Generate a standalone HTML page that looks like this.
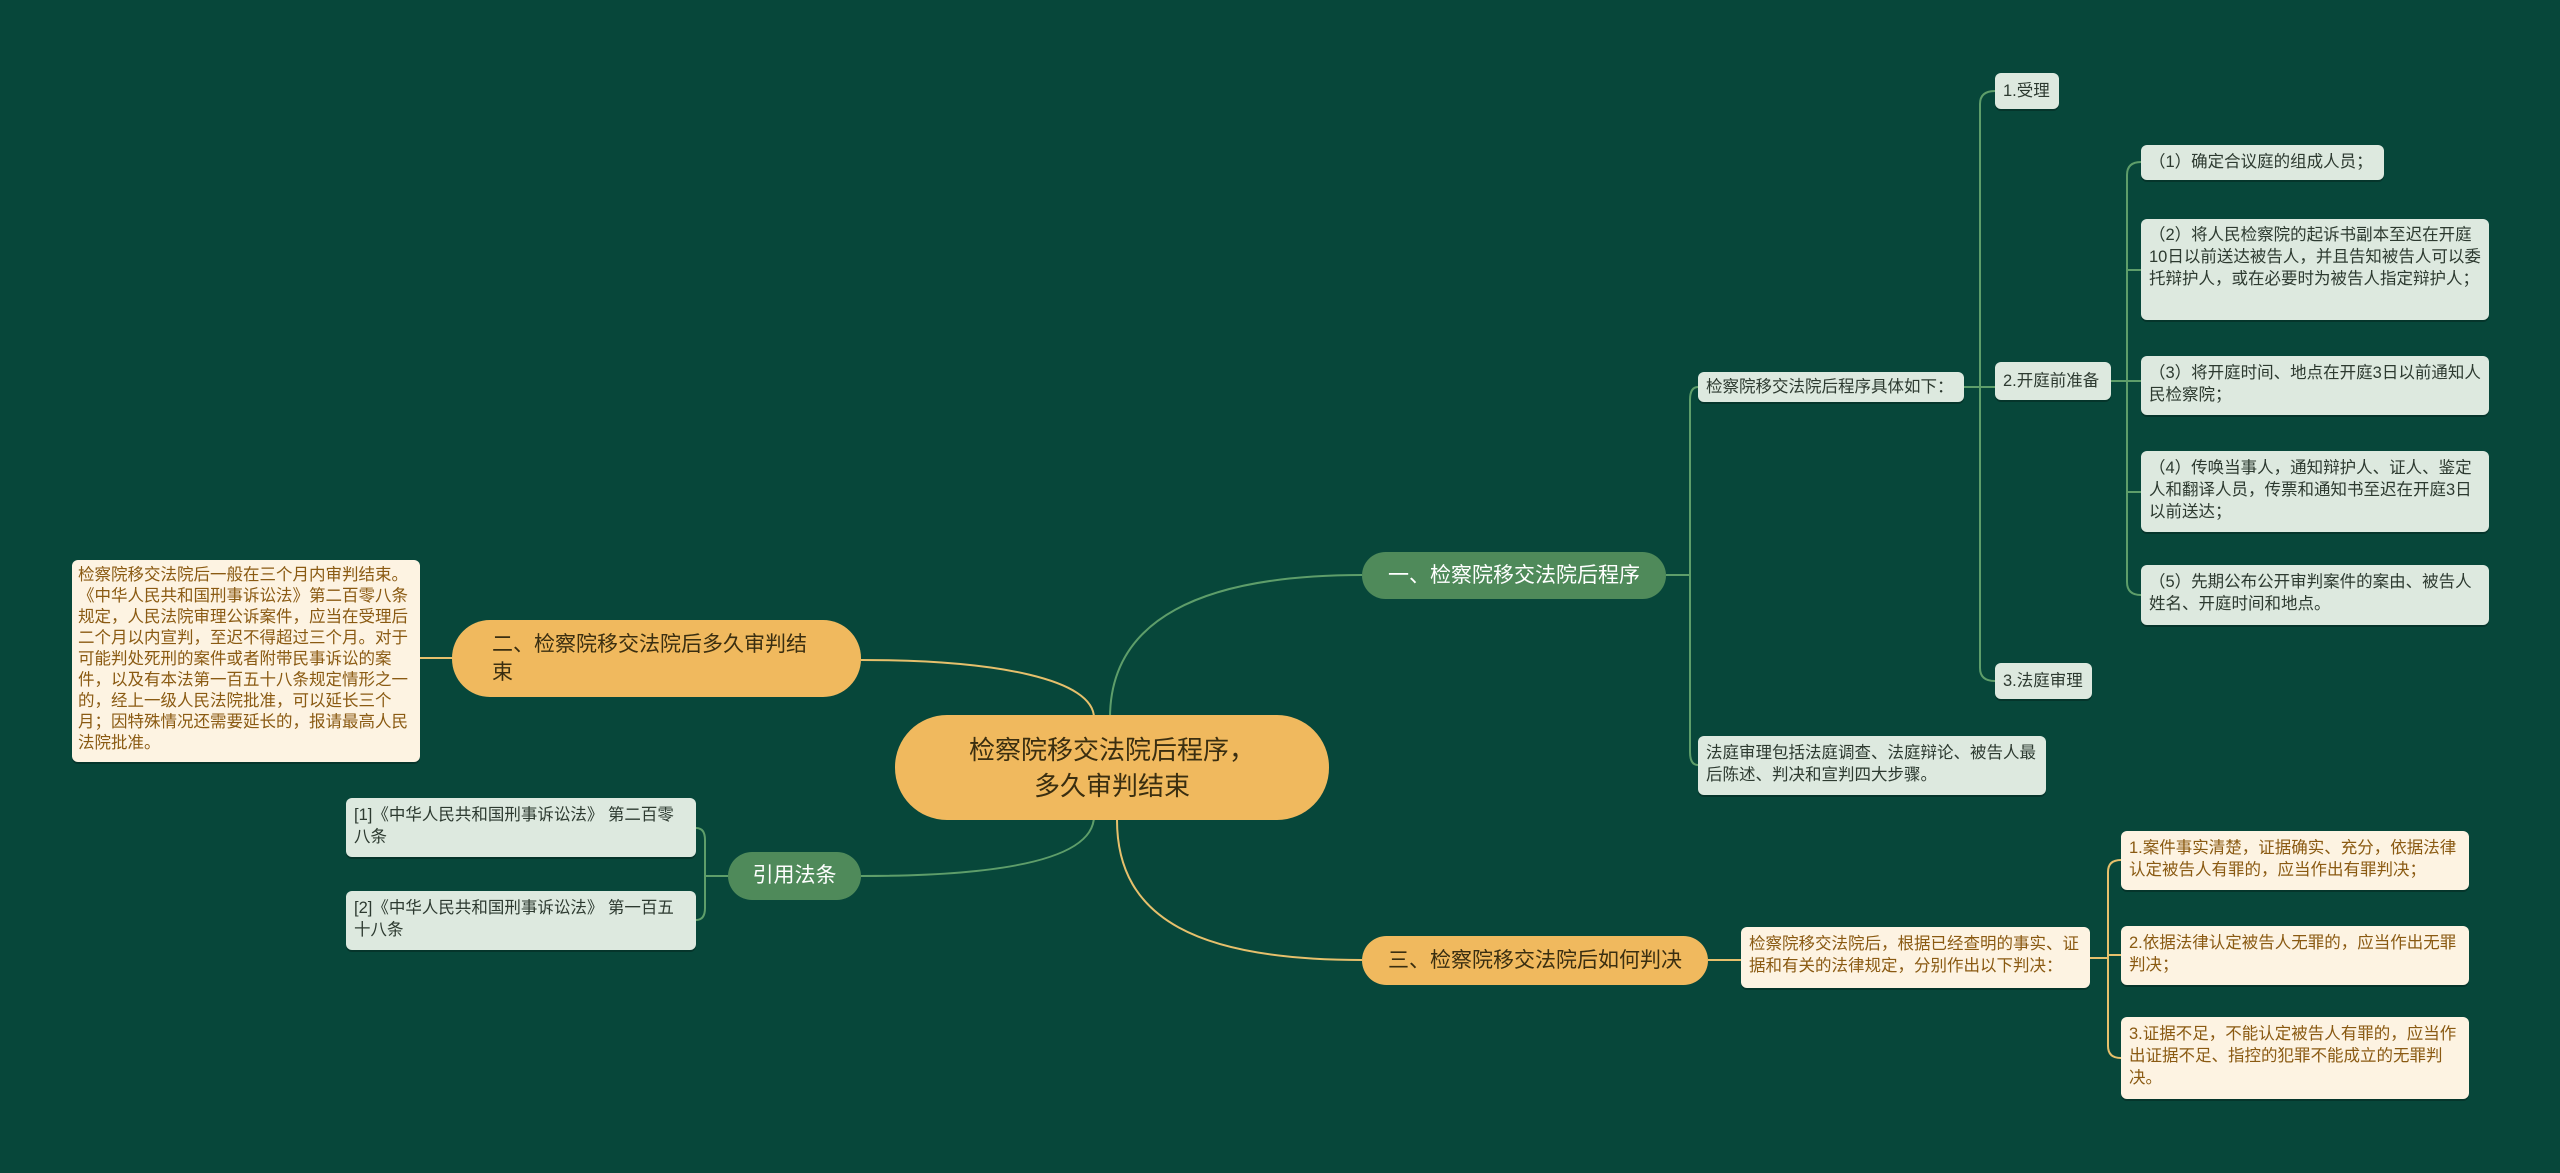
<!DOCTYPE html>
<html><head><meta charset="utf-8"><style>
body{margin:0;width:2560px;height:1173px;background:#07473a;position:relative;overflow:hidden;font-family:"Liberation Sans","Noto Sans CJK SC",sans-serif}
.b{position:absolute;box-sizing:border-box;border-radius:6px;font-size:16.5px;line-height:22px;padding:6px 8px;color:#2d3a30;background:#dde9df;box-shadow:0 2px 0 rgba(0,0,0,.25);word-break:break-all}
.y{background:#fdf3e2;color:#8a5a12}
.n{position:absolute;box-sizing:border-box;border-radius:26px;display:flex;align-items:center;font-size:21px;line-height:28px}
.g{background:#4f8a5a;color:#fff;justify-content:center}
.o{background:#f0b95e;color:#3a2e10}
svg{position:absolute;left:0;top:0}
</style></head><body>
<svg width="2560" height="1173" fill="none" stroke-width="2">
<g stroke="#5e9e6a">
<path d="M1110 718 C1110 620 1200 575 1362 575"/>
<path d="M1094 816 C1094 860 1000 876 861 876"/>
<path d="M1666 575 H1682 M1698 387 Q1690 387 1690 400 V752 Q1690 765 1698 765 M1682 575 H1690"/>
<path d="M1964 387 H1995 M1995 91 Q1980 91 1980 104 V668 Q1980 681 1995 681"/>
<path d="M2111 381 H2141 M2141 162 Q2127 162 2127 175 V582 Q2127 595 2141 595 M2127 270 H2141 M2127 492 H2141"/>
<path d="M728 876 H705 M696 828 Q705 828 705 840 V908 Q705 920 696 920"/>
</g>
<g stroke="#e6c06c">
<path d="M1094 718 C1094 680 1000 660 861 660"/>
<path d="M1117 820 C1117 920 1200 960 1362 960"/>
<path d="M452 658 H420"/>
<path d="M1708 960 H1741 M2090 958 H2108 M2121 860 Q2108 860 2108 872 V1046 Q2108 1058 2121 1058 M2108 955 H2121"/>
</g>
</svg>
<div class="n o" style="left:895px;top:715px;width:434px;height:105px;justify-content:center;text-align:center;font-size:26px;line-height:36px;border-radius:52px">检察院移交法院后程序，<br>多久审判结束</div>
<div class="n g" style="left:1362px;top:552px;width:304px;height:47px">一、检察院移交法院后程序</div>
<div class="n o" style="left:1362px;top:936px;width:346px;height:49px;justify-content:center">三、检察院移交法院后如何判决</div>
<div class="n o" style="left:452px;top:620px;width:409px;height:77px;padding:0 36px 0 40px;border-radius:38px">二、检察院移交法院后多久审判结束</div>
<div class="n g" style="left:728px;top:852px;width:133px;height:48px">引用法条</div>
<div class="b y" style="left:72px;top:560px;width:348px;height:202px;font-size:16.5px;line-height:21px;padding:5px 6px">检察院移交法院后一般在三个月内审判结束。《中华人民共和国刑事诉讼法》第二百零八条规定，人民法院审理公诉案件，应当在受理后二个月以内宣判，至迟不得超过三个月。对于可能判处死刑的案件或者附带民事诉讼的案件，以及有本法第一百五十八条规定情形之一的，经上一级人民法院批准，可以延长三个月；因特殊情况还需要延长的，报请最高人民法院批准。</div>
<div class="b" style="left:346px;top:798px;width:350px;height:59px">[1]《中华人民共和国刑事诉讼法》 第二百零八条</div>
<div class="b" style="left:346px;top:891px;width:350px;height:59px">[2]《中华人民共和国刑事诉讼法》 第一百五十八条</div>
<div class="b" style="left:1698px;top:372px;width:266px;height:30px;padding:4px 8px">检察院移交法院后程序具体如下：</div>
<div class="b" style="left:1698px;top:736px;width:348px;height:59px">法庭审理包括法庭调查、法庭辩论、被告人最后陈述、判决和宣判四大步骤。</div>
<div class="b" style="left:1995px;top:73px;width:64px;height:36px;padding:7px 8px">1.受理</div>
<div class="b" style="left:1995px;top:362px;width:116px;height:38px;padding:8px 8px">2.开庭前准备</div>
<div class="b" style="left:1995px;top:663px;width:97px;height:36px;padding:7px 8px">3.法庭审理</div>
<div class="b" style="left:2141px;top:145px;width:243px;height:35px">（1）确定合议庭的组成人员；</div>
<div class="b" style="left:2141px;top:219px;width:348px;height:101px;padding:5px 8px">（2）将人民检察院的起诉书副本至迟在开庭<br>10日以前送达被告人，并且告知被告人可以委托辩护人，或在必要时为被告人指定辩护人；</div>
<div class="b" style="left:2141px;top:356px;width:348px;height:59px">（3）将开庭时间、地点在开庭3日以前通知人民检察院；</div>
<div class="b" style="left:2141px;top:451px;width:348px;height:81px">（4）传唤当事人，通知辩护人、证人、鉴定人和翻译人员，传票和通知书至迟在开庭3日以前送达；</div>
<div class="b" style="left:2141px;top:565px;width:348px;height:60px">（5）先期公布公开审判案件的案由、被告人姓名、开庭时间和地点。</div>
<div class="b y" style="left:1741px;top:927px;width:349px;height:61px">检察院移交法院后，根据已经查明的事实、证据和有关的法律规定，分别作出以下判决：</div>
<div class="b y" style="left:2121px;top:831px;width:348px;height:59px">1.案件事实清楚，证据确实、充分，依据法律认定被告人有罪的，应当作出有罪判决；</div>
<div class="b y" style="left:2121px;top:926px;width:348px;height:59px">2.依据法律认定被告人无罪的，应当作出无罪判决；</div>
<div class="b y" style="left:2121px;top:1017px;width:348px;height:82px">3.证据不足，不能认定被告人有罪的，应当作出证据不足、指控的犯罪不能成立的无罪判决。</div>
</body></html>
